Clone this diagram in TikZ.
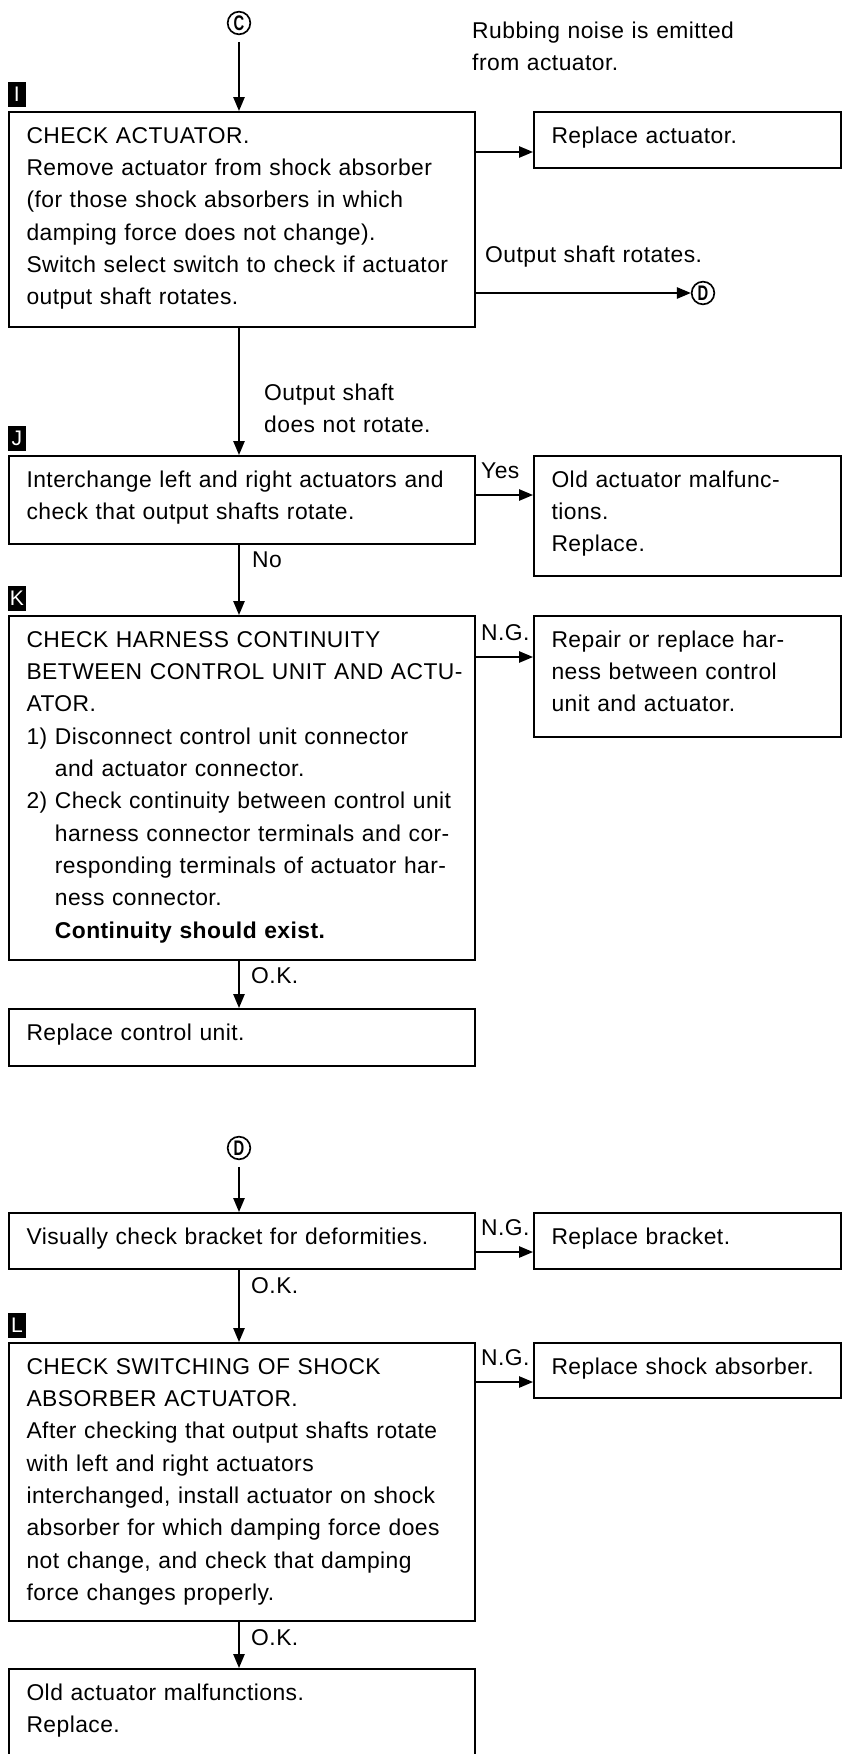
\documentclass[tikz,border=0pt]{standalone}
\usepackage{fontspec}
\setmainfont[LetterSpace=2]{Liberation Sans}
\usetikzlibrary{arrows.meta}

% boxes: #1 is the box height in px, first baseline 31px below the top
\tikzset{
  stepbox/.style={draw, line width=0.6mm, anchor=north west, align=left,
    inner xsep=5.25mm, inner ysep=0pt, text height=9.3mm, text depth={(#1-31)*0.3mm}},
  widebox/.style={stepbox=#1, text width=129.3mm},
  sidebox/.style={stepbox=#1, text width=81.6mm},
  arr/.style={line width=0.5mm, -{Triangle[length=4.2mm,width=3.4mm]}},
  tag/.style={fill=black, text=white, anchor=south west, minimum width=5.2mm,
    minimum height=7.5mm, inner sep=0pt, font=\fontsize{18}{18}\selectfont},
  link/.style={draw, circle, line width=0.5mm, minimum size=6.8mm, inner sep=0pt,
    font=\bfseries\fontsize{18}{18}\selectfont},
  note/.style={anchor=base west, inner sep=0pt, align=left, text width=90mm},
}

\begin{document}
\begin{tikzpicture}[x=0.3mm, y=-0.3mm, font=\fontsize{19.5}{27.6}\selectfont]
\useasboundingbox (0,0) rectangle (845,1754);

% upper chart
\node[link] (C) at (239,23) {\scalebox{0.7}[1]{C}};
\node[widebox=215] (I) at (8,111) {CHECK ACTUATOR.\\
  Remove actuator from shock absorber\\
  (for those shock absorbers in which\\
  damping force does not change).\\
  Switch select switch to check if actuator\\
  output shaft rotates.};
\node[tag] (tI) at ([yshift=1.2mm]I.north west) {I};
\node[sidebox=56] (R1) at (533,111) {Replace actuator.};
\node[link] (D1) at (703,293) {\scalebox{0.7}[1]{D}};

\node[widebox=88] (J) at (8,455) {Interchange left and right actuators and\\
  check that output shafts rotate.};
\node[tag] (tJ) at ([yshift=1.2mm]J.north west) {J};
\node[sidebox=120] (R2) at (533,455) {Old actuator malfunc-\\tions.\\Replace.};

\node[widebox=344] (K) at (8,615) {CHECK HARNESS CONTINUITY\\
  \mbox{BETWEEN CONTROL UNIT AND ACTU-}\\
  ATOR.\\
  1) Disconnect control unit connector\\
  \hphantom{1)~}and actuator connector.\\
  2) Check continuity between control unit\\
  \hphantom{2)~}harness connector terminals and cor-\\
  \hphantom{2)~}responding terminals of actuator har-\\
  \hphantom{2)~}ness connector.\\
  \hphantom{2)~}\textbf{Continuity should exist.}};
\node[tag] (tK) at ([yshift=1.2mm]K.north west) {K};
\node[sidebox=121] (R3) at (533,615) {Repair or replace har-\\ness between control\\unit and actuator.};
\node[widebox=57] (ctrl) at (8,1008) {Replace control unit.};

% lower chart
\node[link] (D2) at (239,1148) {\scalebox{0.7}[1]{D}};
\node[widebox=56] (vis) at (8,1212) {Visually check bracket for deformities.};
\node[sidebox=56] (R4) at (533,1212) {Replace bracket.};
\node[widebox=278] (L) at (8,1342) {CHECK SWITCHING OF SHOCK\\
  ABSORBER ACTUATOR.\\
  After checking that output shafts rotate\\
  with left and right actuators\\
  interchanged, install actuator on shock\\
  absorber for which damping force does\\
  not change, and check that damping\\
  force changes properly.};
\node[tag] (tL) at ([yshift=1.2mm]L.north west) {L};
\node[sidebox=55] (R5) at (533,1342) {Replace shock absorber.};
\node[widebox=130] (fin) at (8,1668) {Old actuator malfunctions.\\Replace.};

% branch texts
\node[note] (rub) at (472,38) {Rubbing noise is emitted\\from actuator.};
\node[note] (rot) at (485,262) {Output shaft rotates.};
\node[note] (norot) at (264,400) {Output shaft\\does not rotate.};
\node[note] (yes) at (481,478) {Yes};
\node[note] (no) at (252,567) {No};
\node[note] (ng1) at (481,640) {N.G.};
\node[note] (ok1) at (251,983) {O.K.};
\node[note] (ng2) at (481,1235) {N.G.};
\node[note] (ok2) at (251,1293) {O.K.};
\node[note] (ng3) at (481,1365) {N.G.};
\node[note] (ok3) at (251,1645) {O.K.};

% connectors
\draw[arr, shorten <=2mm] (C) -- (C |- I.north);
\draw[arr] (I.east |- 0,152) -- (R1.west |- 0,152);
\draw[arr] (I.east |- D1) -- (D1);
\draw[arr] (C |- I.south) -- (C |- J.north);
\draw[arr] (J.east |- 0,495) -- (R2.west |- 0,495);
\draw[arr] (C |- J.south) -- (C |- K.north);
\draw[arr] (K.east |- 0,657) -- (R3.west |- 0,657);
\draw[arr] (C |- K.south) -- (C |- ctrl.north);
\draw[arr, shorten <=2mm] (D2) -- (D2 |- vis.north);
\draw[arr] (vis.east |- 0,1252) -- (R4.west |- 0,1252);
\draw[arr] (D2 |- vis.south) -- (D2 |- L.north);
\draw[arr] (L.east |- 0,1382) -- (R5.west |- 0,1382);
\draw[arr] (D2 |- L.south) -- (D2 |- fin.north);
\end{tikzpicture}
\end{document}
